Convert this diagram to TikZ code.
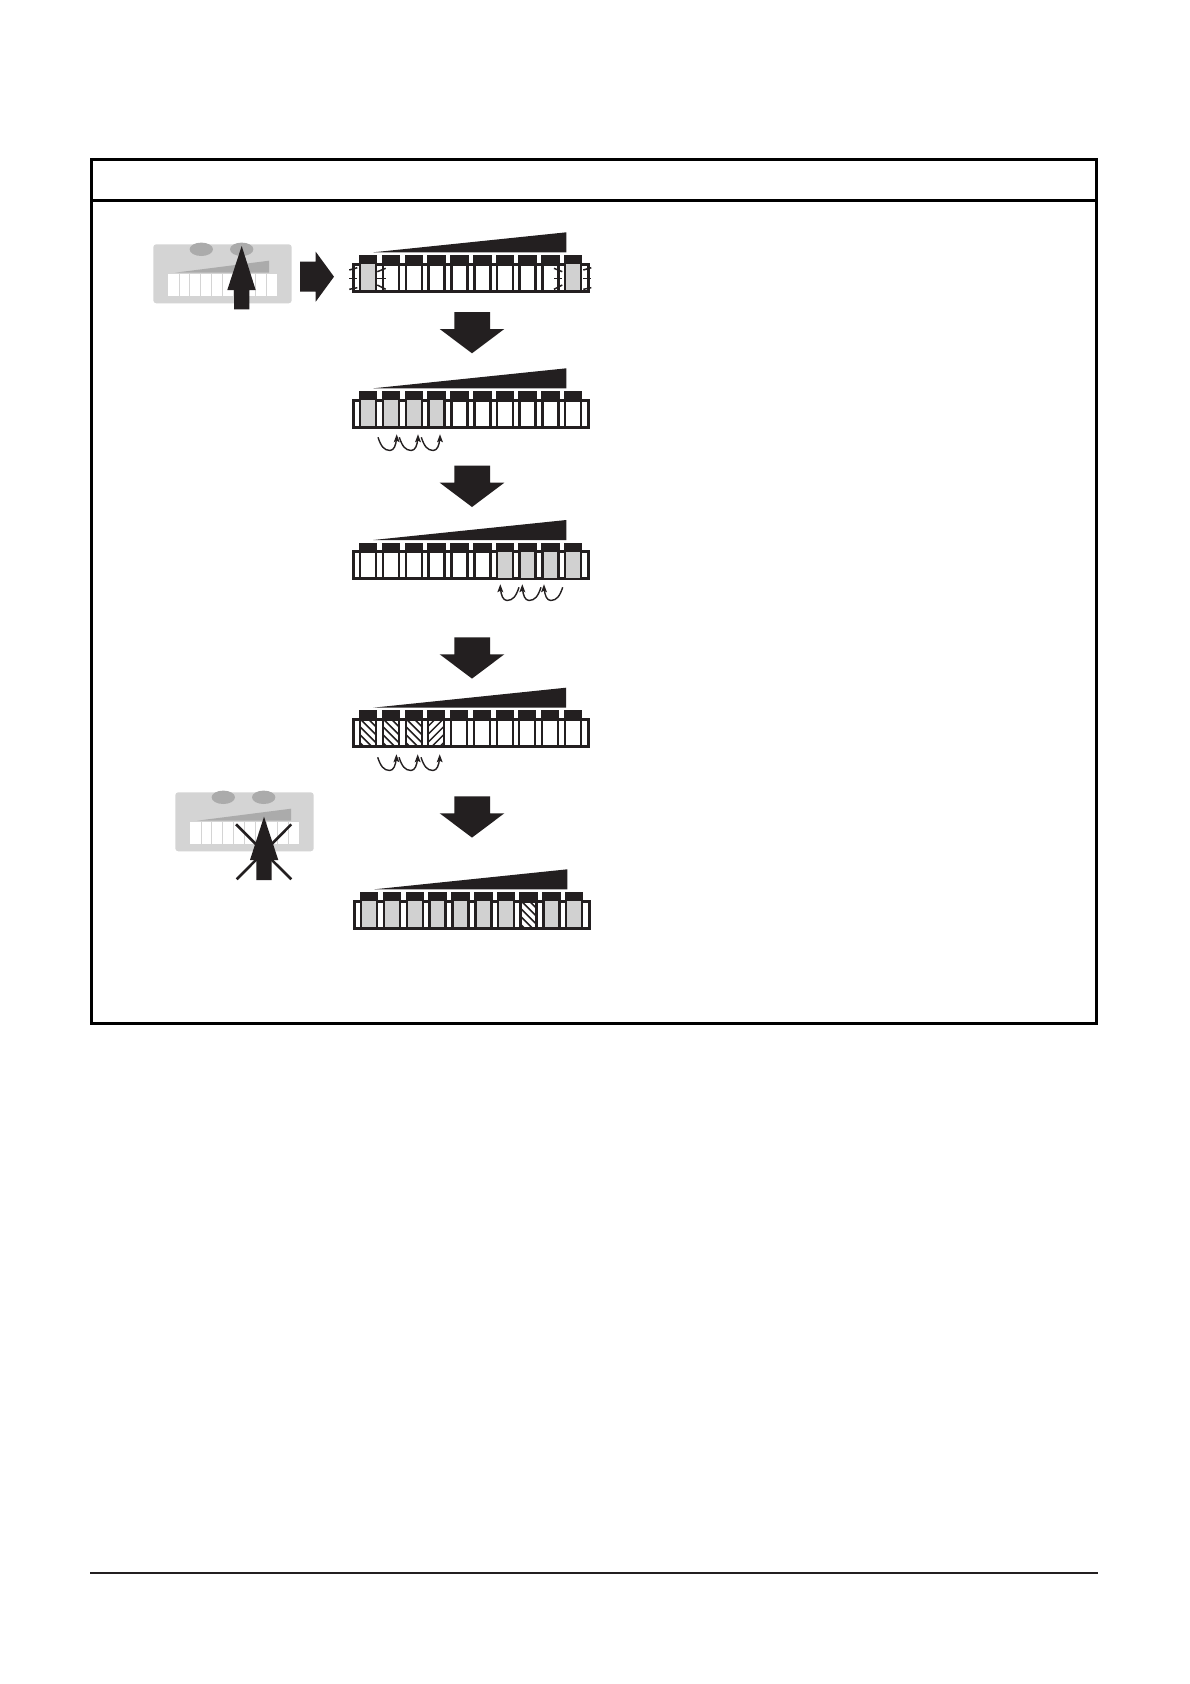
\documentclass[tikz,border=0pt]{standalone}
\definecolor{ink}{HTML}{231F20}
\definecolor{cellgray}{gray}{0.82}
\definecolor{panelgray}{gray}{0.83}
\definecolor{midgray}{gray}{0.67}
\tikzset{
  x=1pt,y=-1pt,
  frameline/.style={draw=black,line width=3pt},
  hatchline/.style={draw=ink,line width=1.5pt},
  tickline/.style={draw=ink,line width=1.5pt},
  hop/.style={draw=ink,line width=1.4pt},
}
% strip: x shift, y shift, list of key-left/kind: g gray, w white, h hatch \, r hatch /
\newcommand{\keystrip}[3]{%
  \begin{scope}[shift={(#1,#2)}]
    \fill[ink] (373.3,252.3) -- (566.3,232.3) -- (566.3,252.3) -- cycle;
    \draw[ink,line width=3pt] (353.6,264) rectangle (588.6,291.2);
    \foreach \xk/\kind in {#3}{%
      \fill[ink] (\xk,255) rectangle +(18.2,10);
      \if\kind g\fill[cellgray] (\xk+1,264) rectangle (\xk+17.2,290);\fi
      \if\kind h
        \begin{scope}
          \clip (\xk+2,265) rectangle (\xk+16.2,290);
          \foreach \d in {-12,-4,...,28}{\draw[hatchline] (\xk-2,264+\d) -- (\xk+20,264+\d+22);}
        \end{scope}
      \fi
      \if\kind r
        \begin{scope}
          \clip (\xk+2,265) rectangle (\xk+16.2,290);
          \foreach \d in {-12,-4,...,28}{\draw[hatchline] (\xk+20,264+\d) -- (\xk-2,264+\d+22);}
        \end{scope}
      \fi
      \fill[ink] (\xk,264) rectangle +(2.3,27);
      \fill[ink] (\xk+15.9,264) rectangle +(2.3,27);
    }
  \end{scope}}
\newcommand{\bigdown}[1]{%
  \fill[ink] (454.3,#1) -- (490,#1) -- (490,#1+17) -- (504.3,#1+17) -- (472,#1+41.3) -- (439.7,#1+17) -- (454.3,#1+17) -- cycle;}
\newcommand{\hopR}[2]{%
  \draw[hop] (#1,#2) .. controls (#1+3,#2+9) and (#1+6,#2+13) .. (#1+12,#2+13.2) .. controls (#1+16,#2+13) and (#1+18,#2+8) .. (#1+18.5,#2+1);
  \fill[ink] (#1+18.7,#2-3) -- (#1+21.7,#2+5) -- (#1+18.7,#2+3.4) -- (#1+15.7,#2+5) -- cycle;}
\newcommand{\hopL}[2]{%
  \draw[hop] (#1,#2) .. controls (#1-3,#2+9) and (#1-6,#2+13) .. (#1-12,#2+13.2) .. controls (#1-16,#2+13) and (#1-18,#2+8) .. (#1-18.5,#2+1);
  \fill[ink] (#1-18.7,#2-3) -- (#1-21.7,#2+5) -- (#1-18.7,#2+3.4) -- (#1-15.7,#2+5) -- cycle;}
\newcommand{\minipanel}[2]{%
  \begin{scope}[shift={(#1,#2)}]
    \fill[panelgray,rounded corners=3pt] (153.3,244.3) rectangle (291.7,303.3);
    \fill[midgray] (201.3,249.3) ellipse [x radius=11.7,y radius=6.7];
    \fill[midgray] (241.7,249.3) ellipse [x radius=11.7,y radius=6.7];
    \fill[midgray] (175,272.7) -- (269,260.7) -- (269,272.7) -- cycle;
    \fill[white] (168,274) rectangle (277.3,296);
    \foreach \i in {1,...,9}{\fill[panelgray] (168+10.93*\i-0.4,274) rectangle +(0.8,22);}
  \end{scope}}
\begin{document}
\begin{tikzpicture}
\useasboundingbox (0,0) rectangle (1190,1684);
\fill[white] (0,0) rectangle (1190,1684);
% frame
\draw[frameline] (91.5,159.5) rectangle (1096.5,1023.5);
\draw[frameline] (91.5,200.5) -- (1096.5,200.5);
\draw[draw=ink,line width=2pt] (90,1573) -- (1098,1573);
% left panels
\minipanel{0}{0}
\fill[ink] (234,309.3) -- (234,290) -- (227.3,290) -- (241.7,246) -- (255.7,290) -- (249.3,290) -- (249.3,309.3) -- cycle;
\fill[ink] (300,261.7) -- (315.7,261.7) -- (315.7,251.7) -- (334,276.7) -- (315.7,301.7) -- (315.7,291.7) -- (300,291.7) -- cycle;
\minipanel{22}{548}
\draw[ink,line width=2.6pt] (236,824.3) -- (291.3,879.3);
\draw[ink,line width=2.6pt] (291.3,824.3) -- (236.7,879.3);
\fill[ink] (256.3,880) -- (256.3,860) -- (250,860) -- (264,816.7) -- (278.3,860) -- (271.7,860) -- (271.7,880) -- cycle;
% strips
\keystrip{0}{0}{359/g,382/w,405/w,427.3/w,450.3/w,473.3/w,496/w,518.3/w,541.3/w,564/g}
\keystrip{0}{136}{359/g,382/g,405/g,427.3/g,450.3/w,473.3/w,496/w,518.3/w,541.3/w,564/w}
\keystrip{0}{287.7}{359/w,382/w,405/w,427.3/w,450.3/w,473.3/w,496/g,518.3/g,541.3/g,564/g}
\keystrip{-0.3}{455.4}{359/h,382/h,405/h,427.3/r,450.3/w,473.3/w,496/w,518.3/w,541.3/w,564/w}
\keystrip{1}{637}{359/g,382/g,405/g,427.3/g,450.3/g,473.3/g,496/g,518.3/h,541.3/g,564/g}
% ticks on row 1
\foreach \xa/\ya/\xb/\yb in {349.3/270/357.3/267.7, 349.3/278.3/357.3/278.3, 349.3/289.3/357.3/287.7,
  377.3/271.7/385.7/268.3, 377.3/278.3/385.7/278.3, 377.3/285/385.7/289.3,
  554/268.3/562.3/271.7, 554/278.3/562.3/278.3, 554/289.3/562.3/285,
  583.3/270/591.3/267.7, 583.3/278.3/591.3/278.3, 583.3/289.3/591.3/287.7}{
  \draw[tickline] (\xa,\ya) -- (\xb,\yb);
}
% big arrows
\bigdown{312}
\bigdown{465.7}
\bigdown{637.3}
\bigdown{796.3}
% hop arrows
\hopR{378}{437.3}\hopR{399.3}{437.3}\hopR{421.3}{437.3}
\hopL{519}{587.3}\hopL{541}{587.3}\hopL{562.7}{587.3}
\hopR{377.7}{757.3}\hopR{399}{757.3}\hopR{421}{757.3}
\end{tikzpicture}
\end{document}
